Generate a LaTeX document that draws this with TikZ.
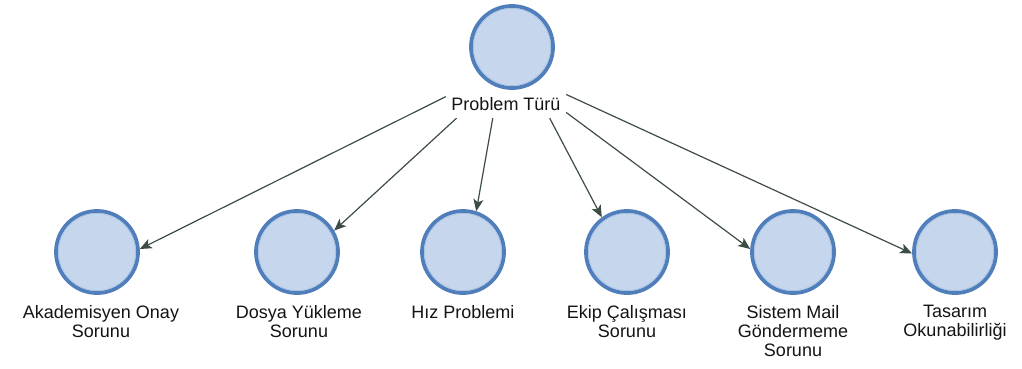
\documentclass[tikz,border=0pt]{standalone}
\usepackage{fontspec}
\setmainfont{Liberation Sans}
\usetikzlibrary{arrows.meta}
\definecolor{cfill}{HTML}{C6D7ED}
\definecolor{cedge}{HTML}{4F7EBB}
\definecolor{cinner}{HTML}{A9C3E4}
\definecolor{carrow}{HTML}{3E4D44}
\definecolor{ctext}{HTML}{141414}
\tikzset{
  vert/.style={circle, minimum size=82pt, inner sep=0pt, fill=cfill, draw=cedge, line width=3.8pt},
  lbl/.style={font=\fontsize{18}{19}\selectfont, text=ctext, align=center, inner sep=0pt, anchor=north},
  conn/.style={draw=carrow, line width=1.2pt, -{Stealth[length=12pt,width=10pt,inset=3pt]}},
}
\begin{document}
\begin{tikzpicture}[x=1pt,y=-1pt]
\useasboundingbox (0,0) rectangle (1022,368);
\fill[white] (0,0) rectangle (1022,368);
% top
\node[vert] (top) at (512,47) {};
\draw[cinner, line width=0.8pt] (512,47) circle (38.6pt);
\node[lbl, anchor=center, minimum width=120pt, minimum height=28pt] (ptl) at (506,104) {Problem Türü};
% bottom circles
\foreach \n/\x in {a/97,b/297,c/463,d/627,e/793,f/955}{
  \node[vert] (\n) at (\x,252) {};
  \draw[cinner, line width=0.8pt] (\x,252) circle (38.6pt);
}
% labels
\node[lbl] (la) at (101,305) {Akademisyen Onay\\Sorunu};
\node[lbl] (lb) at (299,305) {Dosya Yükleme\\Sorunu};
\node[lbl] (lc) at (463,305) {Hız Problemi};
\node[lbl] (ld) at (627,305) {Ekip Çalışması\\Sorunu};
\node[lbl] (le) at (793,305) {Sistem Mail\\Göndermeme\\Sorunu};
\node[lbl] (lf) at (955,305) {Tasarım\\Okunabilirliği};
% connectors
\draw[conn] (ptl.173) -- (a.4);
\draw[conn] (ptl.196) -- (b.30);
\draw[conn] (ptl.227) -- (c.72);
\draw[conn] (ptl.-18) -- (d.126);
\draw[conn] (ptl.-8) -- (e.176);
\draw[conn] (ptl.9) -- (f.182);
\end{tikzpicture}
\end{document}
